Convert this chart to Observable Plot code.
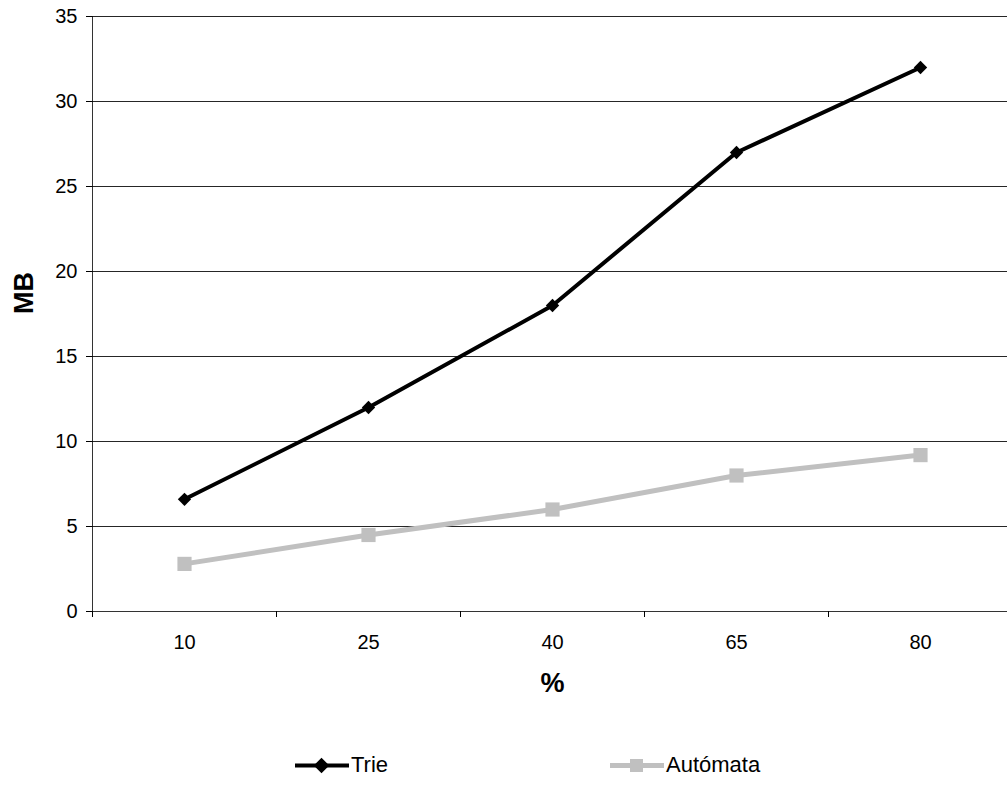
<!DOCTYPE html>
<html>
<head>
<meta charset="utf-8">
<script src="https://cdn.jsdelivr.net/npm/d3@7"></script>
<script src="https://cdn.jsdelivr.net/npm/@observablehq/plot@0.6"></script>
<style>
  html, body { margin: 0; padding: 0; background: #fff; }
  body { width: 1007px; height: 785px; overflow: hidden; font-family: "Liberation Sans", Arial, sans-serif; }
  #legend { position: relative; height: 40px; font-size: 22px; color: #000; }
  #legend .item { position: absolute; top: 0; display: flex; align-items: center; height: 40px; }
</style>
</head>
<body>
<div id="chart"></div>
<div id="legend"></div>
<script>
const categories = ["10", "25", "40", "65", "80"];
const trieValues = [6.6, 12, 18, 27, 32];
const automataValues = [2.8, 4.5, 6, 8, 9.2];
const yTicks = [0, 5, 10, 15, 20, 25, 30, 35];
const seriesNames = ["Trie", "Autómata"];

const trie = categories.map((c, i) => ({i, c, v: trieValues[i]}));
const auto = categories.map((c, i) => ({i, c, v: automataValues[i]}));
const n = categories.length;

const H = 745;
const chart = Plot.plot({
  width: 1007,
  height: H,
  marginLeft: 92,
  marginRight: -5,
  marginTop: 16,
  marginBottom: H - 611,
  style: {fontFamily: "'Liberation Sans', Arial, sans-serif", background: "#fff", color: "#000", overflow: "hidden"},
  x: {type: "linear", domain: [0, n], axis: null},
  y: {domain: [0, 35], axis: null},
  marks: [
    Plot.ruleY(yTicks.filter(d => d > 0), {x1: 0, x2: n, stroke: "#000", strokeWidth: 1, strokeOpacity: 0.85}),
    Plot.axisY({ticks: yTicks, tickSize: 6, tickFormat: () => "", stroke: "#000", label: null}),
    Plot.axisX({ticks: d3.range(n), tickSize: 6, tickFormat: () => "", stroke: "#000", label: null}),
    Plot.text(yTicks, {x: 0, y: d => d, dx: -15, textAnchor: "end", text: d => String(d), fontSize: 20}),
    Plot.text(categories, {x: (d, i) => i + 0.5, y: 0, dy: 31, text: d => d, fontSize: 20}),
    Plot.ruleX([0], {y1: 0, y2: 35, stroke: "#000", strokeOpacity: 0.8}),
    Plot.ruleY([0], {x1: 0, x2: n, stroke: "#000", strokeOpacity: 0.8}),
    Plot.text(["MB"], {frameAnchor: "left", dx: -68, rotate: -90, fontSize: 27, fontWeight: "bold"}),
    Plot.text(["%"], {x: n / 2, frameAnchor: "bottom", lineAnchor: "middle", dy: 72, fontSize: 27, fontWeight: "bold"}),
    Plot.line(auto, {x: d => d.i + 0.5, y: "v", stroke: "#c0c0c0", strokeWidth: 5}),
    Plot.dot(auto, {x: d => d.i + 0.5, y: "v", symbol: "square", r: 8, fill: "#c0c0c0", stroke: "none"}),
    Plot.line(trie, {x: d => d.i + 0.5, y: "v", stroke: "#000", strokeWidth: 4}),
    Plot.dot(trie, {x: d => d.i + 0.5, y: "v", symbol: "diamond2", r: 6, fill: "#000", stroke: "none"})
  ]
});
document.getElementById("chart").appendChild(chart);

const legend = document.getElementById("legend");
const items = [
  {name: seriesNames[0], color: "#000", w: 4, sym: "diamond", left: 295},
  {name: seriesNames[1], color: "#c0c0c0", w: 5, sym: "square", left: 610}
];
for (const it of items) {
  const div = document.createElement("div");
  div.className = "item";
  div.style.left = it.left + "px";
  const shape = it.sym === "diamond"
    ? `<rect x="21" y="7" width="11" height="11" transform="rotate(45 26.5 12.5)" fill="${it.color}"/>`
    : `<rect x="20" y="6" width="13" height="13" fill="${it.color}"/>`;
  div.innerHTML = `<svg width="55" height="25" style="margin-right:1px"><line x1="0" y1="12.5" x2="54" y2="12.5" stroke="${it.color}" stroke-width="${it.w}"/>${shape}</svg><span>${it.name}</span>`;
  legend.appendChild(div);
}
</script>
</body>
</html>
